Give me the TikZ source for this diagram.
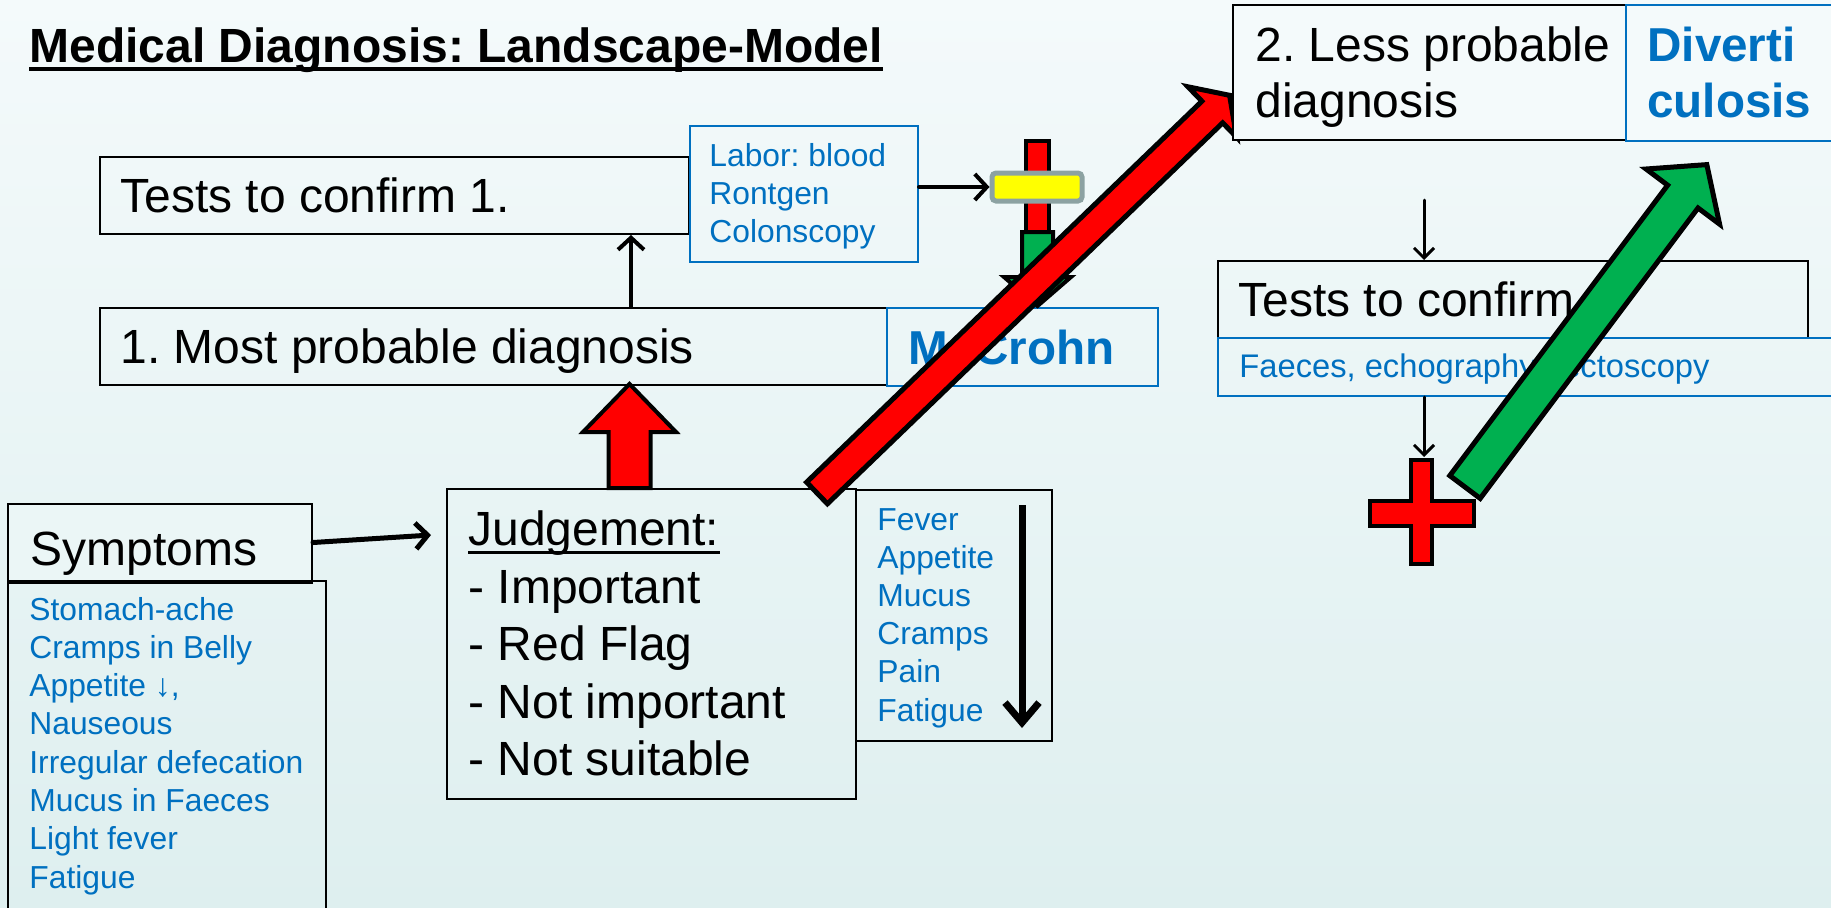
\documentclass[tikz,border=0pt]{standalone}
\usepackage{fontspec}
\setmainfont{Liberation Sans}
\usetikzlibrary{arrows.meta,fit,calc}
\definecolor{bgtop}{RGB}{244,250,251}
\definecolor{bgbot}{RGB}{222,239,239}
\definecolor{mblue}{RGB}{0,112,192}
\definecolor{mred}{RGB}{255,0,0}
\definecolor{mgreen}{RGB}{0,176,80}
\definecolor{myellow}{RGB}{255,255,0}
\definecolor{mgray}{RGB}{140,162,162}
\begin{document}
\frenchspacing
\begin{tikzpicture}[x=0.5pt,y=-0.5pt,
  bigtxt/.style={font=\fontsize{24}{28}\selectfont, inner sep=0, anchor=base west},
  bigbold/.style={font=\bfseries\fontsize{23.8}{28}\selectfont, inner sep=0, anchor=base west, text=mblue},
  smalltxt/.style={font=\fontsize{15.9}{19}\selectfont, inner sep=0, anchor=base west, text=mblue},
  blackbox/.style={inner sep=0, draw=black, line width=1pt},
  bluebox/.style={inner sep=0, draw=mblue, line width=1pt},
  conn/.style={draw=black, line width=2pt, line cap=round, -{Straight Barb[length=6pt,width=13pt]}},
  connthin/.style={draw=black, line width=1.5pt, line cap=round, -{Straight Barb[length=5pt,width=10pt]}},
  blockarrow/.style={draw=black, line width=2.5pt, line join=miter},
]
\useasboundingbox (0,0) rectangle (1831,907);
\clip (0,0) rectangle (1831,907);
\shade[top color=bgtop, bottom color=bgbot] (0,0) rectangle (1831,907);

% title
\node[bigtxt, font=\bfseries\fontsize{24}{28}\selectfont] (title) at (29,62) {Medical Diagnosis: Landscape-Model};
\draw[line width=2pt] ($(title.base west)+(0,7)$) -- ($(title.base east)+(0,7)$);

% left boxes
\node[blackbox, fit={(100,157)(689,234)}] (tests1) {};
\node[bigtxt] (tests1t) at (120,212) {Tests to confirm 1.};
\node[bluebox, fit={(690,126)(918,262)}] (labor) {};
\node[smalltxt] (lab1) at (709,166) {Labor: blood};
\node[smalltxt] (lab2) at (709,204.3) {Rontgen};
\node[smalltxt] (lab3) at (709,242.6) {Colonscopy};

\node[blackbox, fit={(100,308)(887,385)}] (most) {};
\node[bigtxt] (mostt) at (120,363) {1. Most probable diagnosis};
\node[bluebox, fit={(887,308)(1158,386)}] (crohn) {};
\node[bigbold] (crohnt) at (908,364) {M. Crohn};

\node[blackbox, fit={(8,581)(326,930)}] (symlist) {};
\node[blackbox, fit={(8,504)(312,581)}, fill=bgbot!40!bgtop] (symp) {};
\draw[line width=2pt] (symp.south west) -- (symp.south east);
\node[bigtxt] (sympt) at (30,565) {Symptoms};
\foreach \t [count=\i] in {Stomach-ache, Cramps in Belly, {Appetite ↓,}, Nauseous, Irregular defecation, Mucus in Faeces, Light fever, Fatigue}
  \node[smalltxt] (sym\i) at (29,{620+38.3*(\i-1)}) {\t};

\node[blackbox, fit={(447,489)(856,799)}] (judg) {};
\node[bigtxt] (judgt) at (468,545) {Judgement:};
\draw[line width=1.5pt] ($(judgt.base west)+(0,7)$) -- ($(judgt.base east)+(0,7)$);
\node[bigtxt] (j1) at (468,603) {- Important};
\node[bigtxt] (j2) at (468,660) {- Red Flag};
\node[bigtxt] (j3) at (468,718) {- Not important};
\node[bigtxt] (j4) at (468,775) {- Not suitable};

\node[blackbox, fit={(856,490)(1052,741)}] (fever) {};
\foreach \t [count=\i] in {Fever, Appetite, Mucus, Cramps, Pain, Fatigue}
  \node[smalltxt] (fev\i) at (877,{530+38.2*(\i-1)}) {\t};
\coordinate (fa) at (1022,505);
\coordinate (fb) at (1022,728);
\draw[line width=3.5pt, -{Straight Barb[length=10pt,width=17pt]}] (fa) -- (fb);

% connectors left
\coordinate (jin) at (431,535);
\draw[conn, line width=2.5pt] (symp.east) -- (jin);
\coordinate (x1) at (631,0);
\draw[conn] (most.north -| x1) -- (tests1.south -| x1);

% red up block arrow
\filldraw[fill=mred, blockarrow, line width=2pt] (608.5,488) -- (650.5,488) -- (650.5,432) -- (676,432) -- (629.5,384) -- (583,432) -- (608.5,432) -- cycle;

% traffic light: red bar, yellow, green down arrow
\filldraw[fill=mred, draw=black, line width=2pt] (1026,141) rectangle (1049,232);
\node[inner sep=0, fill=myellow, draw=mgray, line width=2.5pt, rounded corners=2pt, fit={(992,173)(1082,201)}] (yel) {};
\filldraw[fill=mgreen, draw=black, line width=2pt] (1022,232) -- (1053,232) -- (1053,277) -- (1071,277) -- (1037.5,306) -- (1004,277) -- (1022,277) -- cycle;
\draw[conn] (labor.east |- yel.west) -- (yel.west);

% right side
\node[blackbox, fit={(1218,261)(1808,338)}] (tests2) {};
\node[bigtxt] (tests2t) at (1238,316) {Tests to confirm};
\node[bluebox, fit={(1218,338)(1840,396)}] (faeces) {};
\node[smalltxt, font=\fontsize{16.35}{19}\selectfont] (faecest) at (1239,377) {Faeces, echography, rectoscopy};

% red cross
\filldraw[fill=mred, draw=black, line width=2pt] (1411,460) -- (1432,460) -- (1432,501) -- (1474,501) -- (1474,526) -- (1432,526) -- (1432,564) -- (1411,564) -- (1411,526) -- (1370,526) -- (1370,501) -- (1411,501) -- cycle;
\coordinate (crosstop) at (1424,457);
\coordinate (x2) at (1424,0);
\coordinate (d2a) at (1424,200);
\draw[connthin] (d2a) -- (tests2.north -| x2);
\draw[connthin] (faeces.south -| x2) -- (crosstop);

% big red diagonal arrow
\filldraw[fill=mred, blockarrow] (806.6,482.2) -- (1201.9,101.2) -- (1188,86.8) -- (1229.6,95.3) -- (1236.6,137.2) -- (1222.7,122.8) -- (827.4,503.8) -- cycle;

% second diagnosis box (covers the red tip)
\node[blackbox, fill=bgtop, fit={(1233,5)(1626,140)}] (less) {};
\node[bigtxt] (less1) at (1255,61) {2. Less probable};
\node[bigtxt] (less2) at (1255,117) {diagnosis};
\node[bluebox, fill=bgtop, fit={(1626,5)(1840,141)}] (divert) {};
\node[bigbold] (div1) at (1647,61) {Diverti};
\node[bigbold] (div2) at (1647,117) {culosis};

% big green diagonal arrow
\filldraw[fill=mgreen, blockarrow] (1449.8,475.6) -- (1667.6,185.2) -- (1646,169) -- (1706.8,164.6) -- (1719.6,224.2) -- (1698,208) -- (1480.2,498.4) -- cycle;
\end{tikzpicture}
\end{document}
